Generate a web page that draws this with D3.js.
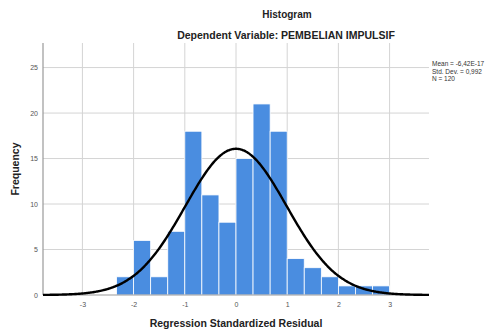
<!DOCTYPE html>
<html>
<head>
<meta charset="utf-8">
<script src="https://cdn.jsdelivr.net/npm/d3@7"></script>
<style>
  body { margin: 0; background: #fff; }
  text { font-family: "Liberation Sans", Arial, sans-serif; }
</style>
</head>
<body>
<div id="chart"></div>
<script>
// residual histogram values
var binLower = [-2.333, -2, -1.667, -1.333, -1, -0.667, -0.333, 0, 0.333, 0.667, 1, 1.333, 1.667, 2, 2.333, 2.667];
var binUpper = [-2, -1.667, -1.333, -1, -0.667, -0.333, 0, 0.333, 0.667, 1, 1.333, 1.667, 2, 2.333, 2.667, 3];
var counts = [2, 6, 2, 7, 18, 11, 8, 15, 21, 18, 4, 3, 2, 1, 1, 1];
var xTicks = [-3, -2, -1, 0, 1, 2, 3];
var yTicks = [0, 5, 10, 15, 20, 25];
var statLines = ["Mean = -6,42E-17", "Std. Dev. = 0,992", "N = 120"];
var mean = -6.42e-17, sd = 0.992, n = 120;

var w = 491, h = 333;
var pLeft = 43, pRight = 429, pTop = 43, pBottom = 295;

var svg = d3.select("#chart").append("svg").attr("width", w).attr("height", h);

var x = d3.scaleLinear().domain([-3.77, 3.77]).range([pLeft, pRight]);
var y = d3.scaleLinear().domain([0, 27.7]).range([pBottom, pTop]);

// grid
var grid = svg.append("g");
grid.selectAll(".vg").data(xTicks).enter().append("line")
	.attr("x1", function(d) { return x(d); }).attr("x2", function(d) { return x(d); })
	.attr("y1", pTop).attr("y2", pBottom)
	.attr("stroke", "#d4d4d4").attr("stroke-width", 1);
grid.selectAll(".hg").data(yTicks.slice(1)).enter().append("line")
	.attr("x1", pLeft).attr("x2", pRight)
	.attr("y1", function(d) { return y(d); }).attr("y2", function(d) { return y(d); })
	.attr("stroke", "#d4d4d4").attr("stroke-width", 1);

// bars
svg.append("g").selectAll("rect").data(counts).enter().append("rect")
	.attr("x", function(d, i) { return x(binLower[i]); })
	.attr("width", function(d, i) { return x(binUpper[i]) - x(binLower[i]); })
	.attr("y", function(d) { return y(d); })
	.attr("height", function(d) { return y(0) - y(d); })
	.attr("fill", "#4a8de0")
	.attr("stroke", "#ffffff").attr("stroke-width", 0.8);

// axes
var xAxis = svg.append("g").attr("transform", "translate(0," + pBottom + ")")
	.call(d3.axisBottom(x).tickValues(xTicks).tickSize(0).tickPadding(7).tickFormat(function(d) { return String(d); }));
var yAxis = svg.append("g").attr("transform", "translate(" + pLeft + ",0)")
	.call(d3.axisLeft(y).tickValues(yTicks).tickSize(0).tickPadding(5).tickFormat(function(d) { return String(d); }));
[xAxis, yAxis].forEach(function(a) {
	a.select(".domain").attr("stroke", "#999").attr("stroke-width", 1.2);
	a.selectAll("text").attr("font-size", 7).attr("fill", "#555")
		.attr("font-family", "Liberation Sans, Arial, sans-serif");
});
yAxis.select(".domain").attr("d", "M0," + pTop + "V" + pBottom);
xAxis.select(".domain").attr("d", "M" + pLeft + ",0H" + pRight);

// normal curve
var binW = binUpper[0] - binLower[0];
var xs = d3.range(-3.77, 3.771, 0.02);
var line = d3.line()
	.x(function(d) { return x(d); })
	.y(function(d) {
		var z = (d - mean) / sd;
		return y(n * binW * Math.exp(-0.5 * z * z) / (sd * Math.sqrt(2 * Math.PI)));
	})
	.curve(d3.curveBasis);
svg.append("path").datum(xs).attr("d", line)
	.attr("fill", "none").attr("stroke", "#000").attr("stroke-width", 2.4);

// titles
svg.append("text").attr("x", 287).attr("y", 18).attr("text-anchor", "middle")
	.attr("font-size", 10).attr("font-weight", "bold").attr("fill", "#222").text("Histogram");
svg.append("text").attr("x", 286).attr("y", 39).attr("text-anchor", "middle")
	.attr("font-size", 10.5).attr("font-weight", "bold").attr("fill", "#222").text("Dependent Variable: PEMBELIAN IMPULSIF");
svg.append("text").attr("transform", "translate(19," + (pTop + pBottom) / 2 + ") rotate(-90)")
	.attr("text-anchor", "middle").attr("font-size", 10.5).attr("font-weight", "bold").attr("fill", "#222").text("Frequency");
svg.append("text").attr("x", x(0)).attr("y", 327).attr("text-anchor", "middle")
	.attr("font-size", 10.5).attr("font-weight", "bold").attr("fill", "#222").text("Regression Standardized Residual");

// stats box
svg.append("g").selectAll("text").data(statLines).enter().append("text")
	.attr("x", 432).attr("y", function(d, i) { return 66 + i * 7.5; })
	.attr("font-size", 6.5).attr("fill", "#333").text(function(d) { return d; });
</script>
</body>
</html>
